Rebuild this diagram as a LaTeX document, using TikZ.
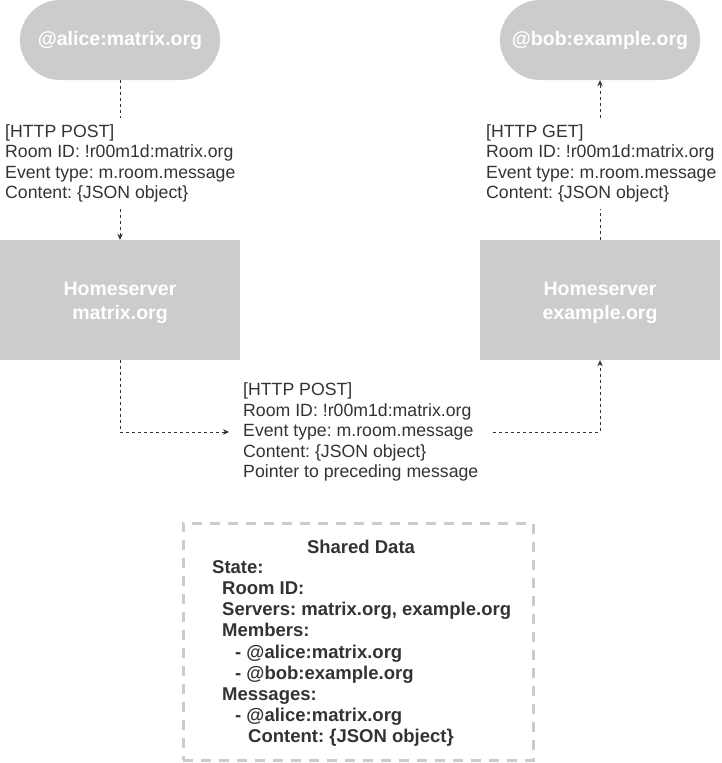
\documentclass[tikz,border=0pt]{standalone}
\usepackage{fontspec}
\setmainfont{Liberation Sans}
\usetikzlibrary{arrows.meta}
\definecolor{boxgray}{HTML}{CCCCCC}
\definecolor{txt}{HTML}{333333}
\frenchspacing
\begin{document}
\begin{tikzpicture}[x=1pt,y=-1pt,
  pill/.style={fill=boxgray, draw=none, rounded corners=40pt, minimum width=200pt, minimum height=80pt, text=white, font=\fontsize{19.5}{24}\selectfont\bfseries},
  server/.style={fill=boxgray, draw=none, minimum width=240pt, minimum height=120pt},
  servertxt/.style={text=white, align=center, font=\fontsize{19.5}{24}\selectfont\bfseries},
  lab/.style={text=txt, align=left, font=\fontsize{17.7}{20.5}\selectfont, inner xsep=0pt, inner ysep=6pt},
  conn/.style={draw=txt, dash pattern=on 3pt off 3pt, line width=0.8pt},
  arr/.style={conn, -{Stealth[length=6pt,width=5.5pt]}},
  sharedbox/.style={draw=boxgray, line width=3pt, dash pattern=on 10pt off 8pt, minimum width=350pt, minimum height=237pt},
  sharedtxt/.style={text=txt, font=\fontsize{18.5}{21.1}\selectfont\bfseries, inner sep=0pt},
]
\useasboundingbox (0,0) rectangle (721,763);
\node[pill] (alice) at (120,40) {@alice:matrix.org};
\node[pill] (bob) at (600,40) {@bob:example.org};
\node[server] (hs1) at (120,300) {};
\node[server] (hs2) at (600,300) {};
\node[servertxt] (hs1t) at (120,303) {Homeserver\\matrix.org};
\node[servertxt] (hs2t) at (600,303) {Homeserver\\example.org};
\node[lab, anchor=west] (l1) at (5,163.5) {[HTTP POST]\\Room ID: !r00m1d:matrix.org\\Event type: m.room.message\\Content: \{JSON object\}};
\node[lab, anchor=west] (l2) at (486,163.5) {[HTTP GET]\\Room ID: !r00m1d:matrix.org\\Event type: m.room.message\\Content: \{JSON object\}};
\node[lab, anchor=west, inner xsep=14pt] (l3) at (229,432) {[HTTP POST]\\Room ID: !r00m1d:matrix.org\\Event type: m.room.message\\Content: \{JSON object\}\\Pointer to preceding message};
\draw[conn] (alice.south) -- (alice.south |- l1.north);
\draw[arr] (hs1.north |- l1.south) -- (hs1.north);
\draw[conn] (hs2.north) -- (hs2.north |- l2.south);
\draw[arr] (bob.south |- l2.north) -- (bob.south);
\draw[arr] (hs1.south) |- (l3.west);
\draw[arr] (l3.east) -| (hs2.south);
\node[sharedbox] (shared) at (358,641.5) {};
\node[sharedtxt] (stitle) at (361,547) {Shared Data};
\node[sharedtxt, anchor=west, align=left] (scontent) at (212,653.5) {State:\\\hspace*{10pt}Room ID:\\\hspace*{10pt}Servers: matrix.org, example.org\\\hspace*{10pt}Members:\\\hspace*{23pt}- @alice:matrix.org\\\hspace*{23pt}- @bob:example.org\\\hspace*{10pt}Messages:\\\hspace*{23pt}- @alice:matrix.org\\\hspace*{36pt}Content: \{JSON object\}};
\end{tikzpicture}
\end{document}
